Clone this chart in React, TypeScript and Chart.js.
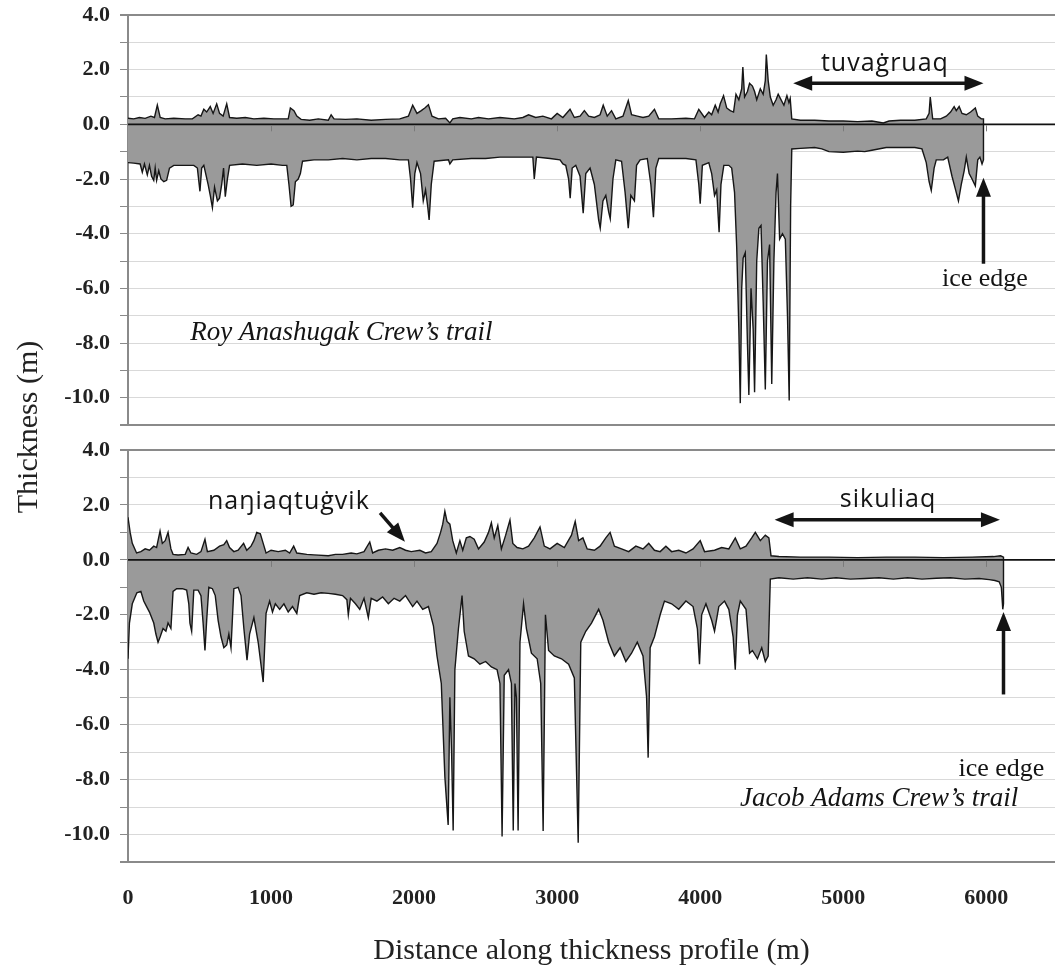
import React, { useEffect, useRef } from "react";
import { Chart, registerables } from "chart.js";

Chart.register(...registerables);

// ---------- axis values ----------
const xTickValues = [0, 1000, 2000, 3000, 4000, 5000, 6000];
const xMin = 0;
const xMax = 6480;
const yMin = -11;
const yMax = 4;

// ---------- Roy Anashugak Crew's trail (top panel) ----------
const royTopDist = [
  0, 40, 80, 120, 160, 185, 205, 225, 260, 320, 400, 450, 490, 510, 530, 550, 575, 595, 620, 640,
  665, 690, 710, 760, 820, 880, 950, 1020, 1080, 1120, 1135, 1160, 1180, 1210, 1270, 1330, 1400, 1420, 1440, 1520,
  1600, 1700, 1800, 1900, 1960, 1990, 2020, 2050, 2075, 2100, 2125, 2170, 2220, 2250, 2270, 2320, 2400, 2450, 2520, 2600,
  2700, 2760, 2800, 2850, 2900, 2960, 3000, 3040, 3090, 3120, 3160, 3190, 3220, 3260, 3300, 3322, 3350, 3380, 3410, 3460,
  3497, 3520, 3560, 3600, 3640, 3680, 3710, 3800, 3900, 3960, 3990, 4030, 4060, 4080, 4105, 4125, 4140, 4163, 4185, 4210,
  4233, 4250, 4270, 4290, 4298, 4310, 4330, 4345, 4365, 4380, 4395, 4420, 4440, 4455, 4462, 4475, 4490, 4510, 4530, 4545,
  4560, 4585, 4606, 4620, 4629, 4640, 4700, 4800, 4900, 5000, 5100, 5200, 5280, 5320, 5400, 5500, 5580, 5600, 5608, 5625,
  5680, 5720, 5750, 5775, 5790, 5810, 5830, 5860, 5890, 5923, 5940, 5965, 5980, 5980,
];
const royTopThick = [
  0.22, 0.2, 0.25, 0.22, 0.3, 0.25, 0.7, 0.25, 0.2, 0.22, 0.2, 0.2, 0.35, 0.3, 0.55, 0.45, 0.65, 0.4, 0.75, 0.4,
  0.3, 0.75, 0.25, 0.22, 0.25, 0.2, 0.22, 0.2, 0.2, 0.2, 0.6, 0.5, 0.3, 0.18, 0.15, 0.2, 0.15, 0.35, 0.2, 0.18,
  0.2, 0.15, 0.18, 0.2, 0.3, 0.7, 0.4, 0.5, 0.6, 0.72, 0.3, 0.2, 0.22, 0.05, 0.2, 0.25, 0.2, 0.25, 0.2, 0.25,
  0.2, 0.25, 0.35, 0.25, 0.3, 0.2, 0.4, 0.25, 0.55, 0.25, 0.3, 0.5, 0.3, 0.25, 0.35, 0.7, 0.3, 0.5, 0.2, 0.3,
  0.87, 0.35, 0.3, 0.25, 0.3, 0.55, 0.2, 0.2, 0.22, 0.2, 0.55, 0.25, 0.45, 0.35, 0.7, 0.45, 0.75, 1.05, 0.6, 0.5,
  0.45, 1.1, 0.9, 1.3, 2.1, 1.0, 1.2, 1.5, 1.4, 1.2, 0.9, 1.3, 1.1, 1.6, 2.55, 1.6, 1.0, 0.7, 0.9, 1.1,
  0.95, 0.7, 1.05, 0.8, 0.95, 0.2, 0.15, 0.15, 0.12, 0.12, 0.1, 0.12, 0.05, 0.12, 0.15, 0.15, 0.2, 0.4, 1.0, 0.2,
  0.2, 0.3, 0.45, 0.65, 0.5, 0.65, 0.4, 0.35, 0.45, 0.6, 0.3, 0.2, 0.2, 0,
];
const royBotDist = [
  0, 40, 85, 100, 115, 135, 150, 165, 180, 190, 200, 215, 230, 250, 270, 290, 320, 400, 460, 485,
  503, 515, 530, 560, 575, 590, 605, 625, 640, 655, 668, 680, 695, 710, 800, 900, 1000, 1080, 1110, 1125,
  1140, 1155, 1170, 1190, 1205, 1220, 1300, 1400, 1500, 1600, 1700, 1800, 1900, 1960, 1975, 1990, 2005, 2020, 2045, 2064,
  2080, 2095, 2105, 2120, 2140, 2240, 2250, 2270, 2400, 2500, 2600, 2700, 2780, 2830, 2840, 2855, 2950, 3020, 3040, 3060,
  3080, 3091, 3105, 3130, 3160, 3182, 3200, 3230, 3260, 3290, 3301, 3320, 3340, 3360, 3371, 3390, 3410, 3450, 3475, 3497,
  3515, 3540, 3555, 3580, 3630, 3655, 3673, 3690, 3710, 3800, 3900, 3970, 3990, 4000, 4015, 4060, 4080, 4100, 4115, 4132,
  4145, 4165, 4200, 4220, 4240, 4255, 4270, 4280, 4290, 4300, 4315, 4330, 4340, 4355, 4370, 4380, 4395, 4410, 4425, 4440,
  4455, 4470, 4485, 4500, 4515, 4530, 4540, 4555, 4575, 4595, 4610, 4622, 4632, 4640, 4700, 4800, 4850, 4900, 5000, 5100,
  5150, 5200, 5300, 5400, 5500, 5550, 5580, 5600, 5615, 5635, 5650, 5700, 5730, 5760, 5785, 5805, 5825, 5845, 5860, 5880,
  5900, 5923, 5940, 5955, 5970, 5980, 5980,
];
const royBotThick = [
  -1.4, -1.42, -1.45, -1.75, -1.45, -1.85, -1.5, -1.9, -2.05, -1.6, -2.05, -1.7, -2.0, -2.1, -2.05, -1.6, -1.5, -1.5, -1.5, -1.6,
  -2.45, -1.6, -1.5, -2.2, -2.6, -3.05, -2.3, -2.8, -2.7, -2.2, -1.6, -2.65, -2.0, -1.5, -1.45, -1.5, -1.45, -1.5, -1.5, -2.2,
  -3.0, -2.95, -2.1, -2.0, -1.8, -1.35, -1.3, -1.3, -1.25, -1.3, -1.25, -1.25, -1.3, -1.3, -2.0, -3.05, -1.8, -1.4, -1.8, -2.8,
  -2.4, -3.0, -3.5, -2.2, -1.35, -1.3, -1.45, -1.3, -1.25, -1.25, -1.2, -1.2, -1.2, -1.2, -2.0, -1.2, -1.25, -1.3, -1.45, -1.5,
  -2.0, -2.7, -1.6, -1.5, -1.9, -3.25, -1.8, -1.6, -2.2, -3.5, -3.8, -2.8, -2.6, -3.2, -3.45, -2.0, -1.3, -1.35, -2.5, -3.8,
  -2.6, -2.8, -1.5, -1.3, -1.25, -2.2, -3.4, -1.6, -1.25, -1.25, -1.25, -1.3, -2.2, -2.9, -1.5, -1.4, -1.8, -2.6, -2.4, -3.95,
  -2.2, -1.5, -1.5, -1.6, -2.5, -4.5, -7.5, -10.2, -6.0, -4.9, -4.7, -8.0, -9.9, -6.0, -7.5, -9.8, -5.0, -3.8, -3.7, -6.5,
  -9.7, -5.0, -4.4, -9.5, -5.0, -2.5, -1.8, -4.2, -4.0, -4.2, -7.0, -10.1, -3.0, -0.9, -0.88, -0.85, -0.9, -1.0, -1.02, -0.98,
  -1.0, -0.95, -0.85, -0.85, -0.85, -0.9, -1.4, -2.1, -2.42, -1.6, -1.3, -1.3, -1.2, -1.9, -2.4, -2.8, -2.2, -1.7, -1.2, -1.8,
  -2.0, -2.25, -1.3, -1.2, -1.45, -1.3, 0,
];

// ---------- Jacob Adams Crew's trail (bottom panel) ----------
const jacTopDist = [
  0, 15, 30, 60, 90, 120, 150, 180, 200, 224, 240, 260, 280, 300, 315, 350, 400, 420, 440, 480,
  510, 538, 555, 600, 640, 670, 690, 710, 740, 770, 808, 830, 860, 880, 900, 925, 945, 965, 1000, 1050,
  1100, 1130, 1158, 1180, 1250, 1300, 1400, 1450, 1500, 1560, 1600, 1650, 1690, 1710, 1750, 1800, 1850, 1900, 1940, 1980,
  2040, 2080, 2120, 2160, 2185, 2200, 2215, 2230, 2250, 2270, 2295, 2320, 2340, 2365, 2390, 2420, 2450, 2490, 2520, 2540,
  2560, 2585, 2610, 2640, 2670, 2690, 2720, 2760, 2800, 2840, 2880, 2910, 2950, 3000, 3050, 3100, 3126, 3150, 3180, 3210,
  3260, 3300, 3340, 3370, 3400, 3450, 3500, 3550, 3600, 3640, 3680, 3720, 3760, 3800, 3850, 3900, 3950, 4000, 4030, 4100,
  4150, 4200, 4245, 4280, 4320, 4360, 4385, 4420, 4455, 4480, 4495, 4550, 4700, 4900, 5100, 5300, 5500, 5700, 5900, 6050,
  6100, 6120, 6120,
];
const jacTopThick = [
  1.55, 1.0, 0.6, 0.25, 0.3, 0.4, 0.35, 0.5, 0.45, 1.05, 0.6, 0.7, 1.0, 0.4, 0.2, 0.18, 0.2, 0.45, 0.25, 0.2,
  0.3, 0.75, 0.3, 0.35, 0.5, 0.55, 0.7, 0.45, 0.3, 0.35, 0.6, 0.35, 0.5, 0.7, 1.0, 0.95, 0.6, 0.25, 0.35, 0.3,
  0.35, 0.25, 0.5, 0.25, 0.2, 0.18, 0.15, 0.2, 0.2, 0.25, 0.22, 0.3, 0.65, 0.25, 0.35, 0.4, 0.35, 0.45, 0.35, 0.3,
  0.35, 0.25, 0.3, 0.6, 1.0, 1.3, 1.77, 1.4, 1.3, 0.7, 0.25, 0.7, 0.35, 0.8, 0.85, 0.75, 0.4, 0.65, 1.0, 1.35,
  0.8, 1.25, 0.4, 0.9, 1.45, 0.6, 0.45, 0.4, 0.5, 0.8, 1.2, 0.5, 0.4, 0.6, 0.45, 0.9, 1.4, 0.7, 0.8, 0.4,
  0.35, 0.5, 0.8, 1.0, 0.5, 0.4, 0.3, 0.5, 0.4, 0.6, 0.35, 0.3, 0.5, 0.3, 0.35, 0.25, 0.4, 0.7, 0.3, 0.35,
  0.45, 0.4, 0.8, 0.4, 0.5, 0.8, 1.0, 0.7, 0.9, 0.8, 0.15, 0.12, 0.1, 0.1, 0.08, 0.1, 0.1, 0.08, 0.1, 0.12,
  0.15, 0.1, 0,
];
const jacBotDist = [
  0, 10, 30, 62, 90, 110, 130, 150, 165, 180, 195, 210, 225, 245, 265, 280, 300, 315, 340, 380,
  410, 425, 433, 445, 460, 490, 510, 525, 538, 550, 565, 590, 610, 630, 650, 670, 690, 705, 720, 740,
  770, 790, 810, 832, 850, 880, 910, 945, 965, 990, 1010, 1030, 1060, 1090, 1120, 1150, 1180, 1200, 1250, 1300,
  1350, 1400, 1450, 1500, 1530, 1540, 1555, 1590, 1620, 1650, 1680, 1700, 1740, 1780, 1820, 1860, 1900, 1940, 1990, 2020,
  2060, 2100, 2135, 2160, 2190, 2215, 2238, 2250, 2262, 2273, 2285, 2310, 2335, 2350, 2380, 2420, 2460, 2500, 2540, 2580,
  2600, 2615, 2630, 2660, 2680, 2693, 2705, 2715, 2727, 2740, 2765, 2785, 2820, 2860, 2885, 2902, 2918, 2940, 2980, 3030,
  3080, 3120, 3147, 3165, 3200, 3240, 3290, 3320, 3360, 3400, 3440, 3480, 3520, 3560, 3600, 3625, 3636, 3650, 3680, 3720,
  3750, 3800, 3850, 3900, 3950, 3980, 3995, 4010, 4040, 4080, 4100, 4130, 4170, 4200, 4230, 4245, 4260, 4280, 4320, 4345,
  4365, 4400, 4430, 4455, 4475, 4490, 4550, 4650, 4750, 4850, 4950, 5050, 5150, 5250, 5350, 5450, 5550, 5650, 5750, 5850,
  5950, 6020, 6060, 6090, 6105, 6115, 6120, 6120,
];
const jacBotThick = [
  -3.6, -2.3, -1.6, -1.2, -1.15, -1.5, -1.7, -1.9, -2.1, -2.3, -2.7, -3.0, -2.8, -2.5, -2.6, -2.3, -2.5, -1.15, -1.05, -1.05,
  -1.1, -1.6, -2.3, -2.6, -1.1, -1.1, -1.3, -2.3, -3.3, -2.2, -1.0, -1.05, -1.3, -2.2, -2.8, -3.2, -3.1, -2.7, -3.2, -1.05,
  -1.0, -1.3, -2.5, -3.65, -2.7, -2.1, -3.0, -4.45, -1.95, -1.5, -1.9, -1.6, -1.8, -1.6, -1.9, -1.7, -1.95, -1.3, -1.2, -1.25,
  -1.2, -1.22, -1.25, -1.3, -1.45, -2.0, -1.4, -1.6, -1.8, -1.4, -2.1, -1.4, -1.5, -1.35, -1.6, -1.4, -1.5, -1.3, -1.7, -1.5,
  -1.8, -1.7, -2.4, -3.5, -4.5, -7.9, -9.65, -5.0, -7.0, -9.85, -4.0, -2.5, -1.3, -2.6, -3.5, -3.6, -3.8, -3.7, -3.9, -4.0,
  -4.5, -10.07, -4.2, -4.0, -4.5, -9.85, -4.5, -5.0, -9.85, -3.0, -1.6, -2.5, -3.4, -3.6, -4.5, -9.87, -2.0, -3.3, -3.5, -3.6,
  -3.8, -4.3, -10.3, -3.0, -2.6, -2.3, -1.8, -2.2, -3.0, -3.5, -3.2, -3.7, -3.4, -3.0, -3.5, -5.0, -7.2, -3.2, -2.8, -2.0,
  -1.5, -1.6, -1.8, -1.5, -1.7, -2.5, -3.8, -2.0, -1.6, -2.2, -2.6, -1.7, -1.5, -1.8, -2.8, -4.0, -2.0, -1.5, -1.8, -3.4,
  -3.3, -3.6, -3.2, -3.7, -3.5, -0.7, -0.65, -0.7, -0.65, -0.7, -0.65, -0.7, -0.68, -0.65, -0.7, -0.65, -0.7, -0.67, -0.65, -0.7,
  -0.68, -0.72, -0.75, -0.8, -1.0, -1.8, -1.6, 0,
];

// ---------- zero line ----------
const zeroLineDist = [0, 6480];
const zeroLineThick = [0, 0];

// ---------- annotations (data units) ----------
type Note =
  | { kind: "text"; text: string; d: number; v: number; font: string; align: CanvasTextAlign; spacing?: string }
  | { kind: "arrow"; d1: number; v1: number; d2: number; v2: number; both?: boolean };

const SERIF = "'Liberation Serif', 'Times New Roman', serif";
const SANS = "'Open Sans', 'Noto Sans', sans-serif";

const royNotes: Note[] = [
  { kind: "text", text: "tuvaġruaq", d: 5291, v: 1.94, font: `25px ${SANS}`, align: "center", spacing: "1px" },
  { kind: "arrow", d1: 4650, v1: 1.5, d2: 5980, v2: 1.5, both: true },
  { kind: "arrow", d1: 5980, v1: -5.1, d2: 5980, v2: -1.95 },
  { kind: "text", text: "ice edge", d: 5990, v: -5.93, font: `26px ${SERIF}`, align: "center" },
  { kind: "text", text: "Roy Anashugak Crew’s trail", d: 435, v: -7.9, font: `italic 27px ${SERIF}`, align: "left" },
];

const jacNotes: Note[] = [
  { kind: "text", text: "naŋiaqtuġvik", d: 559, v: 1.86, font: `25px ${SANS}`, align: "left", spacing: "1px" },
  { kind: "arrow", d1: 1762, v1: 1.71, d2: 1936, v2: 0.66 },
  { kind: "text", text: "sikuliaq", d: 5313, v: 1.93, font: `25px ${SANS}`, align: "center", spacing: "1px" },
  { kind: "arrow", d1: 4520, v1: 1.46, d2: 6095, v2: 1.46, both: true },
  { kind: "arrow", d1: 6120, v1: -4.9, d2: 6120, v2: -1.9 },
  { kind: "text", text: "ice edge", d: 6105, v: -7.86, font: `26px ${SERIF}`, align: "center" },
  { kind: "text", text: "Jacob Adams Crew’s trail", d: 4278, v: -8.96, font: `italic 27px ${SERIF}`, align: "left" },
];

function pts(xs: number[], ys: number[]) {
  return xs.map((x, i) => ({ x, y: ys[i] }));
}

function arrowHead(ctx: CanvasRenderingContext2D, tx: number, ty: number, fx: number, fy: number) {
  const a = Math.atan2(ty - fy, tx - fx);
  const L = 19;
  const W = 7.5;
  const c = Math.cos(a);
  const s = Math.sin(a);
  ctx.beginPath();
  ctx.moveTo(tx, ty);
  ctx.lineTo(tx - L * c - W * s, ty - L * s + W * c);
  ctx.lineTo(tx - L * c + W * s, ty - L * s - W * c);
  ctx.closePath();
  ctx.fill();
}

function notesPlugin(notes: Note[]) {
  return {
    id: "trailNotes",
    afterDatasetsDraw(chart: any) {
      const { ctx, scales } = chart;
      const xs = scales.x;
      const ys = scales.y;
      ctx.save();
      ctx.strokeStyle = "#7a7a7a";
      ctx.lineWidth = 1;
      const y0 = ys.getPixelForValue(0);
      for (const v of xTickValues) {
        if (v === 0) continue;
        const px = Math.round(xs.getPixelForValue(v)) + 0.5;
        ctx.beginPath();
        ctx.moveTo(px, y0 + 1);
        ctx.lineTo(px, y0 + 7);
        ctx.stroke();
      }
      ctx.restore();
    },
    afterDraw(chart: any) {
      const { ctx, scales } = chart;
      const xs = scales.x;
      const ys = scales.y;
      ctx.save();
      ctx.fillStyle = "#141414";
      ctx.strokeStyle = "#141414";
      for (const n of notes) {
        if (n.kind === "text") {
          ctx.font = n.font;
          ctx.textAlign = n.align;
          ctx.textBaseline = "alphabetic";
          (ctx as any).letterSpacing = n.spacing || "0px";
          ctx.fillText(n.text, xs.getPixelForValue(n.d), ys.getPixelForValue(n.v));
          (ctx as any).letterSpacing = "0px";
        } else {
          const x1 = xs.getPixelForValue(n.d1);
          const y1 = ys.getPixelForValue(n.v1);
          const x2 = xs.getPixelForValue(n.d2);
          const y2 = ys.getPixelForValue(n.v2);
          const len = Math.hypot(x2 - x1, y2 - y1);
          const ux = (x2 - x1) / len;
          const uy = (y2 - y1) / len;
          const cut = 12;
          ctx.lineWidth = 3.5;
          ctx.beginPath();
          ctx.moveTo(n.both ? x1 + ux * cut : x1, n.both ? y1 + uy * cut : y1);
          ctx.lineTo(x2 - ux * cut, y2 - uy * cut);
          ctx.stroke();
          arrowHead(ctx, x2, y2, x1, y1);
          if (n.both) arrowHead(ctx, x1, y1, x2, y2);
        }
      }
      ctx.restore();
    },
  };
}

function buildChart(
  canvas: HTMLCanvasElement,
  topD: number[],
  topV: number[],
  botD: number[],
  botV: number[],
  notes: Note[],
  showX: boolean,
  padTop: number,
  padBottom: number
) {
  const edgeColor = "#8a8a8a";
  return new Chart(canvas, {
    type: "line",
    data: {
      datasets: [
        {
          label: "zero",
          data: pts(zeroLineDist, zeroLineThick),
          borderColor: "#111",
          borderWidth: 1.6,
          pointRadius: 0,
          fill: false,
        },
        {
          label: "upper surface",
          data: pts(topD, topV),
          borderColor: "#161616",
          borderWidth: 1.4,
          backgroundColor: "#9a9a9a",
          fill: "origin",
          pointRadius: 0,
        },
        {
          label: "lower surface",
          data: pts(botD, botV),
          borderColor: "#161616",
          borderWidth: 1.4,
          backgroundColor: "#9a9a9a",
          fill: "origin",
          pointRadius: 0,
        },
      ],
    },
    options: {
      responsive: false,
      devicePixelRatio: 1,
      animation: false,
      events: [],
      layout: { padding: { top: padTop, bottom: padBottom, left: 0, right: 0 } },
      plugins: { legend: { display: false }, tooltip: { enabled: false } },
      scales: {
        x: {
          type: "linear",
          min: xMin,
          max: xMax,
          display: showX,
          afterBuildTicks: (s: any) => {
            s.ticks = xTickValues.map((v) => ({ value: v }));
          },
          afterFit: (s: any) => {
            if (showX) s.height = 108;
            s.paddingLeft = 0;
            s.paddingRight = 0;
          },
          grid: { display: false, drawTicks: false },
          border: { display: true, color: edgeColor, width: 2 },
          ticks: {
            autoSkip: false,
            maxRotation: 0,
            minRotation: 0,
            padding: 23,
            color: "#222",
            font: { family: SERIF, size: 22, weight: "bold" },
            callback: function (value: any, index: number, ticks: any[]) {
              const t = ticks && ticks[index];
              return String(t ? t.value : value);
            },
          },
          title: {
            display: showX,
            text: "Distance along thickness profile (m)",
            color: "#222",
            font: { family: SERIF, size: 30 },
            padding: { top: 0, bottom: 1 },
          },
        },
        y: {
          type: "linear",
          min: yMin,
          max: yMax,
          afterFit: (s: any) => {
            s.width = 128;
            s.paddingTop = 0;
            s.paddingBottom = 0;
          },
          grid: {
            color: (c: any) => (c.tick && (c.tick.value === yMax || c.tick.value === yMin) ? edgeColor : "#d9d9d9"),
            lineWidth: (c: any) => (c.tick && (c.tick.value === yMax || c.tick.value === yMin) ? 2 : 1),
            tickColor: edgeColor,
            tickLength: 8,
            drawTicks: true,
          },
          border: { display: true, color: edgeColor, width: 2 },
          ticks: {
            stepSize: 1,
            autoSkip: false,
            padding: 10,
            color: "#222",
            font: { family: SERIF, size: 22, weight: "bold" },
            callback: (v: any) => {
              const n = Math.round(Number(v));
              return n % 2 === 0 ? n.toFixed(1) : "";
            },
          },
        },
      },
    },
    plugins: [notesPlugin(notes)],
  } as any);
}

export default function App() {
  const topRef = useRef<HTMLCanvasElement>(null);
  const botRef = useRef<HTMLCanvasElement>(null);

  useEffect(() => {
    const a = buildChart(topRef.current!, royTopDist, royTopThick, royBotDist, royBotThick, royNotes, false, 15, 5);
    const b = buildChart(botRef.current!, jacTopDist, jacTopThick, jacBotDist, jacBotThick, jacNotes, true, 20, 0);
    return () => {
      a.destroy();
      b.destroy();
    };
  }, []);

  return (
    <div
      style={{
        position: "absolute",
        left: 0,
        top: 0,
        width: 1055,
        height: 970,
        background: "#ffffff",
        overflow: "hidden",
      }}
    >
      <canvas
        ref={topRef}
        width={1055}
        height={430}
        style={{ position: "absolute", left: 0, top: 0, width: 1055, height: 430, display: "block" }}
      />
      <canvas
        ref={botRef}
        width={1055}
        height={540}
        style={{ position: "absolute", left: 0, top: 430, width: 1055, height: 540, display: "block" }}
      />
      <div
        style={{
          position: "absolute",
          left: 27 - 150,
          top: 427 - 20,
          width: 300,
          height: 40,
          lineHeight: "40px",
          textAlign: "center",
          transform: "rotate(-90deg)",
          fontFamily: SERIF,
          fontSize: 30,
          color: "#222",
          whiteSpace: "nowrap",
        }}
      >
        Thickness (m)
      </div>
    </div>
  );
}
